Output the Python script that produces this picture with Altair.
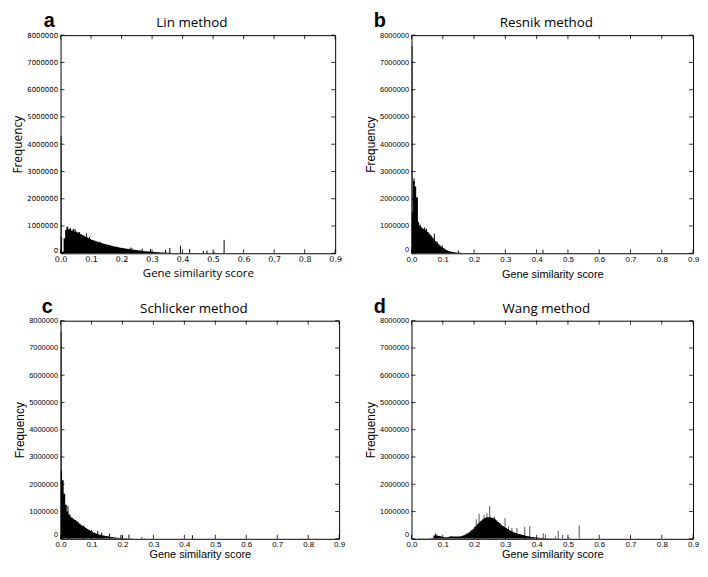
import altair as alt
import pandas as pd

BIN = 0.005  # histogram bin width (score units)

# ---------------- data ----------------
lin_counts = [
    600000, 60000, 550000, 850000, 960000, 880000, 900000, 830000, 870000, 800000,
    790000, 760000, 730000, 700000, 670000, 640000, 610000, 580000, 550000, 525000,
    500000, 480000, 460000, 440000, 420000, 400000, 380000, 365000, 350000, 335000,
    320000, 305000, 290000, 275000, 262000, 250000, 238000, 226000, 215000, 205000,
    195000, 185000, 175000, 166000, 157000, 149000, 141000, 133000, 126000, 119000,
    112000, 105000, 98000, 91000, 85000, 79000, 73000, 68000, 63000, 58000,
    53000, 48000, 44000, 40000, 36000, 32000, 29000, 26000, 23000, 20000,
    18000, 16000, 14000, 12000, 10000, 9000, 8000, 7000, 6000, 5000,
    4500, 4000, 3500, 3000, 2800, 2500, 2200, 2000, 1800, 1600,
    1400, 1200, 1000, 900, 800, 700, 600, 500, 400, 300,
]
lin_spike_x = [0.0015, 0.022, 0.032, 0.042, 0.048, 0.062, 0.085, 0.095, 0.13, 0.228, 0.234,
               0.268, 0.295, 0.344, 0.358, 0.393, 0.423, 0.468, 0.48, 0.503, 0.536]
lin_spike_y = [4300000, 980000, 920000, 900000, 880000, 780000, 730000, 600000, 420000, 210000, 200000,
               170000, 160000, 120000, 195000, 280000, 150000, 80000, 100000, 60000, 490000]

resnik_counts = [
    1500000, 2650000, 2450000, 2050000, 1100000, 1000000, 950000, 900000, 870000, 830000,
    780000, 720000, 650000, 580000, 510000, 450000, 390000, 330000, 280000, 230000,
    190000, 150000, 120000, 95000, 75000, 60000, 48000, 38000, 30000, 24000,
    19000, 15000, 12000, 10000, 8000, 6500, 5000, 4000, 3000, 2500,
    2000, 1500, 1200, 1000, 800, 600, 500, 400, 300, 200,
]
resnik_spike_x = [0.0015, 0.008, 0.018, 0.022, 0.028, 0.042, 0.048, 0.073, 0.082, 0.098, 0.15, 0.42]
resnik_spike_y = [7600000, 2750000, 2050000, 1150000, 1050000, 950000, 900000, 720000, 420000, 280000, 100000, 130000]

schlicker_counts = [
    2450000, 2150000, 1650000, 1250000, 1000000, 880000, 820000, 770000, 730000, 690000,
    650000, 600000, 550000, 500000, 460000, 430000, 400000, 360000, 320000, 285000,
    255000, 230000, 205000, 185000, 165000, 150000, 135000, 122000, 110000, 100000,
    90000, 80000, 70000, 62000, 55000, 48000, 42000, 36000, 31000, 27000,
    23000, 19000, 16000, 13000, 11000, 9000, 7000, 6000, 5000, 4000,
    3000, 2500, 2000, 1500, 1000,
]
schlicker_spike_x = [0.0015, 0.003, 0.024, 0.03, 0.075, 0.1, 0.12, 0.133, 0.158, 0.195, 0.2, 0.221, 0.263, 0.426]
schlicker_spike_y = [7600000, 2500000, 1200000, 900000, 490000, 320000, 290000, 230000, 195000, 140000, 110000, 150000, 60000, 130000]

wang_counts = [
    0, 0, 0, 0, 8000, 10000, 10000, 12000, 12000, 14000,
    15000, 16000, 18000, 25000, 120000, 160000, 120000, 100000, 90000, 80000,
    70000, 60000, 55000, 70000, 85000, 90000, 85000, 80000, 85000, 85000,
    85000, 95000, 110000, 130000, 160000, 190000, 225000, 265000, 310000, 370000,
    430000, 490000, 550000, 610000, 660000, 710000, 750000, 775000, 790000, 795000,
    790000, 775000, 750000, 715000, 670000, 620000, 570000, 520000, 470000, 430000,
    400000, 360000, 325000, 295000, 265000, 240000, 215000, 195000, 178000, 163000,
    150000, 135000, 120000, 105000, 92000, 80000, 70000, 62000, 55000, 49000,
    44000, 39000, 34000, 30000, 26000, 23000, 20000, 17000, 15000, 13000,
    11000, 9000, 8000, 7000, 6000, 5000, 4000, 3000, 2500, 2000,
    1500, 1000,
]
wang_spike_x = [0.077, 0.207, 0.216, 0.232, 0.241, 0.25, 0.265, 0.299, 0.31, 0.321, 0.337,
                0.362, 0.378, 0.421, 0.428, 0.46, 0.469, 0.483, 0.503, 0.536]
wang_spike_y = [200000, 720000, 920000, 880000, 950000, 1200000, 820000, 760000, 450000, 400000, 400000,
                440000, 470000, 200000, 160000, 90000, 290000, 140000, 60000, 490000]

x_ticks = [0.0, 0.1, 0.2, 0.3, 0.4, 0.5, 0.6, 0.7, 0.8, 0.9]
y_ticks = [0, 1000000, 2000000, 3000000, 4000000, 5000000, 6000000, 7000000, 8000000]


def hist_frame(counts):
    xs = [round(i * BIN, 4) for i in range(len(counts) + 1)]
    ys = list(counts) + [0]
    return pd.DataFrame({"score": xs, "freq": ys})


def panel(letter, title, counts, sx, sy, spike_color, W, H,
          label_font, axis_title_font, x_title_size, y_title_size,
          x_title_pad, y_title_pad, letter_dx, ylabel_size):
    xscale = alt.Scale(domain=[0, 0.9], nice=False, zero=False)
    yscale = alt.Scale(domain=[0, 8000000], nice=False)
    xaxis = alt.Axis(values=x_ticks, format=".1f", title="Gene similarity score",
                     grid=False, domain=False, ticks=False,
                     labelFont=label_font, labelFontSize=8, labelColor="black",
                     labelPadding=2, labelFlush=False, labelOverlap=False,
                     titleFont=axis_title_font, titleFontSize=x_title_size,
                     titleFontWeight="normal", titleColor="black", titlePadding=x_title_pad)
    yaxis = alt.Axis(values=y_ticks, format="d", title="Frequency",
                     grid=False, domain=False, ticks=False,
                     labelFont=label_font, labelFontSize=ylabel_size, labelColor="black",
                     labelPadding=3, labelFlush=False, labelOverlap=False,
                     labelBaseline=alt.ExprRef(expr="datum.value == 0 ? 'bottom' : 'middle'"),
                     titleFont=axis_title_font, titleFontSize=y_title_size,
                     titleFontWeight="normal", titleColor="black", titlePadding=y_title_pad)

    spikes = alt.Chart(pd.DataFrame({"score": sx, "freq": sy})).mark_rule(
        color=spike_color, strokeWidth=1, clip=True
    ).encode(
        x=alt.X("score:Q", scale=xscale, axis=xaxis),
        y=alt.Y("freq:Q", scale=yscale, axis=yaxis),
        y2=alt.datum(0),
    )
    area = alt.Chart(hist_frame(counts)).mark_area(
        interpolate="step-after", color="black", clip=True
    ).encode(
        x=alt.X("score:Q", scale=xscale, axis=xaxis),
        y=alt.Y("freq:Q", scale=yscale, axis=yaxis, stack=None),
    )
    xt = pd.DataFrame({"score": x_ticks})
    yt = pd.DataFrame({"freq": y_ticks})
    tb = alt.Chart(xt).mark_rule(color="black", strokeWidth=0.8).encode(
        x=alt.X("score:Q", scale=xscale, axis=xaxis), y=alt.value(H), y2=alt.value(H - 4))
    tt = alt.Chart(xt).mark_rule(color="black", strokeWidth=0.8).encode(
        x=alt.X("score:Q", scale=xscale, axis=xaxis), y=alt.value(0), y2=alt.value(4))
    tl = alt.Chart(yt).mark_rule(color="black", strokeWidth=0.8).encode(
        y=alt.Y("freq:Q", scale=yscale, axis=yaxis), x=alt.value(0), x2=alt.value(4))
    tr = alt.Chart(yt).mark_rule(color="black", strokeWidth=0.8).encode(
        y=alt.Y("freq:Q", scale=yscale, axis=yaxis), x=alt.value(W - 4), x2=alt.value(W))

    let = alt.Chart(pd.DataFrame({"t": [letter]})).mark_text(
        font="Liberation Sans", fontWeight="bold", fontSize=20, align="left",
        baseline="alphabetic", color="black"
    ).encode(text="t:N", x=alt.value(letter_dx), y=alt.value(-8))
    ttl = alt.Chart(pd.DataFrame({"t": [title]})).mark_text(
        font="Open Sans", fontSize=13.5, align="center", baseline="alphabetic", color="black"
    ).encode(text="t:N", x=alt.value(W / 2 - 6), y=alt.value(-8))

    return alt.layer(spikes, area, tb, tt, tl, tr, let, ttl).properties(width=W, height=H)


pa = panel("a", "Lin method", lin_counts, lin_spike_x, lin_spike_y, "black", 277, 220,
           "DejaVu Sans", "Open Sans", 11.5, 12, 4, 2, -17, 7)
pb = panel("b", "Resnik method", resnik_counts, resnik_spike_x, resnik_spike_y, "black", 284, 220,
           "Liberation Sans", "Liberation Sans", 11, 12, 5, 2, -38, 7.5)
pc = panel("c", "Schlicker method", schlicker_counts, schlicker_spike_x, schlicker_spike_y, "black", 281, 220,
           "Liberation Sans", "Liberation Sans", 11, 12, 0, 2, -19, 7.5)
pd_ = panel("d", "Wang method", wang_counts, wang_spike_x, wang_spike_y, "#555555", 284, 220,
            "Liberation Sans", "Liberation Sans", 11, 12, 0, 2, -38, 7.5)

row1 = alt.hconcat(pa, pb, spacing=22)
row2 = alt.hconcat(pc, pd_, spacing=18)
chart = alt.vconcat(row1, row2, spacing=16).properties(
    padding={"left": 3, "top": 0, "right": 0, "bottom": 0}, background="white"
).configure_view(stroke="black", strokeWidth=1)

chart.save("out.html", embed_options={"renderer": "svg", "actions": False})
